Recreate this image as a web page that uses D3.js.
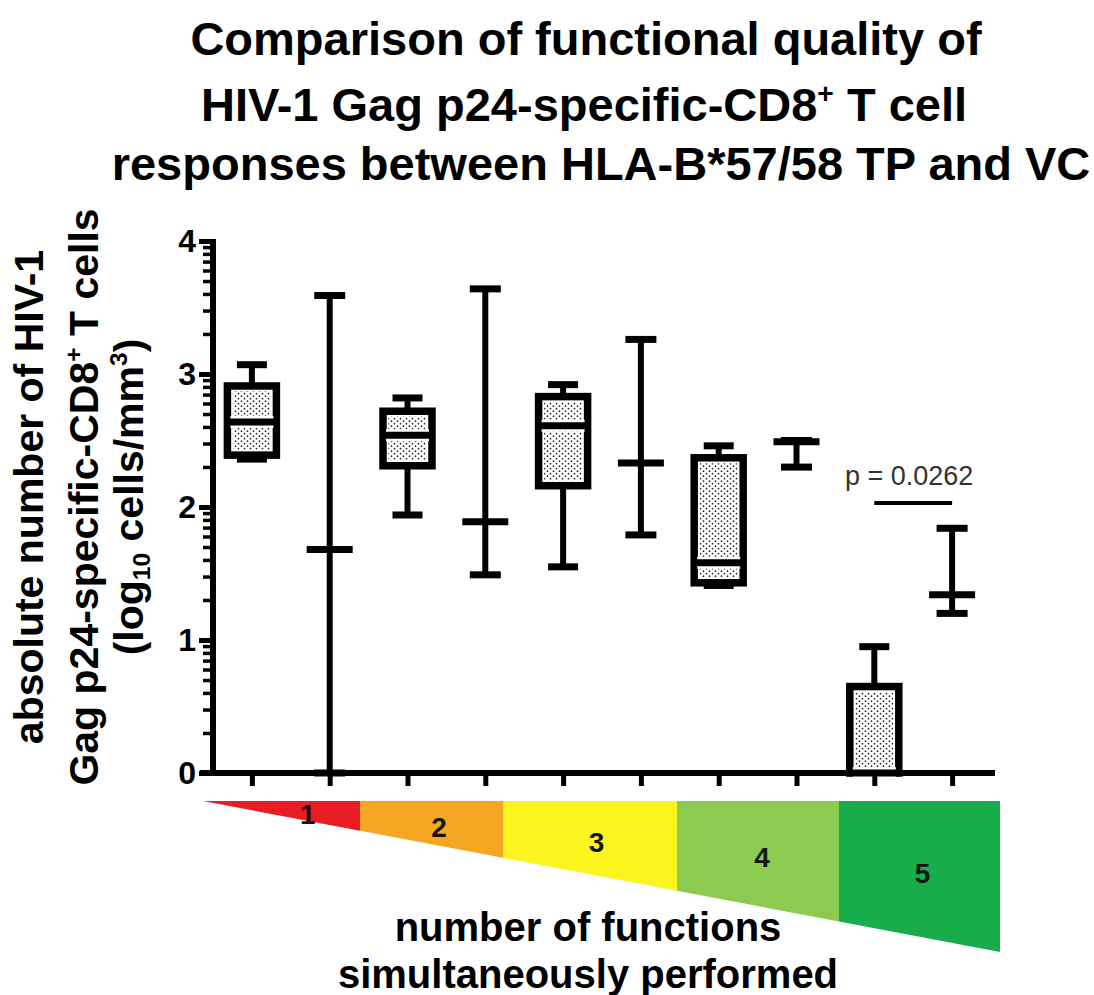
<!DOCTYPE html>
<html>
<head>
<meta charset="utf-8">
<script src="https://cdn.jsdelivr.net/npm/d3@7"></script>
<style>
  html, body { margin: 0; padding: 0; background: #fff; }
  svg { display: block; }
  text { font-family: "Liberation Sans", Arial, Helvetica, sans-serif; }
</style>
</head>
<body>
<svg id="chart" width="1094" height="995"></svg>
<script>
// ---- data: log10 absolute counts per group (TP box plots, VC min–max with median) ----
const categories = ["1 TP", "1 VC", "2 TP", "2 VC", "3 TP", "3 VC", "4 TP", "4 VC", "5 TP", "5 VC"];
const mins    = [2.36, 0.00, 1.94, 1.49, 1.55, 1.79, 1.41, 2.30, 0.00, 1.20];
const q1s     = [2.39, null, 2.31, null, 2.16, null, 1.43, null, 0.00, null];
const medians = [2.64, 1.68, 2.54, 1.89, 2.61, 2.33, 1.58, 2.49, 0.00, 1.34];
const q3s     = [2.91, null, 2.72, null, 2.83, null, 2.37, null, 0.65, null];
const maxs    = [3.07, 3.59, 2.82, 3.64, 2.92, 3.26, 2.46, 2.50, 0.95, 1.84];

const yTickValues = [0, 1, 2, 3, 4];
const functionLabels = ["1", "2", "3", "4", "5"];
const functionColors = ["#e81c22", "#f5a623", "#fbf41e", "#8dca50", "#18ad4a"];

const pFrom = "5 TP";
const pTo = "5 VC";
const pLevel = 2.03;
const pLabel = "p = 0.0262";

const titleLines = [
  [{ t: "Comparison of functional quality of" }],
  [{ t: "HIV-1 Gag p24-specific-CD8" }, { t: "+", sup: true }, { t: " T cell" }],
  [{ t: "responses between HLA-B*57/58 TP and VC" }]
];
const yLabelLines = [
  [{ t: "absolute number of HIV-1" }],
  [{ t: "Gag p24-specific-CD8" }, { t: "+", sup: true }, { t: " T cells" }],
  [{ t: "(log" }, { t: "10", sub: true }, { t: " cells/mm" }, { t: "3", sup: true }, { t: ")" }]
];
const xTitleLines = ["number of functions", "simultaneously performed"];

// ---- layout ----
const svg = d3.select("#chart");
const x = d3.scalePoint().domain(categories).range([213, 991]).padding(0.5);
const y = d3.scaleLinear().domain([0, 4]).range([773, 241]);

const defs = svg.append("defs");
const pat = defs.append("pattern")
  .attr("id", "dots").attr("patternUnits", "userSpaceOnUse")
  .attr("width", 6).attr("height", 5);
pat.append("rect").attr("width", 6).attr("height", 5).attr("fill", "#fff");
pat.append("circle").attr("cx", 1.5).attr("cy", 1.2).attr("r", 0.85).attr("fill", "#222");
pat.append("circle").attr("cx", 4.5).attr("cy", 3.7).attr("r", 0.85).attr("fill", "#222");

// text with super/subscript runs; the shift is undone on the following run
function writeRich(textSel, parts, baseSize) {
  let pending = 0;
  parts.forEach(p => {
    const ts = textSel.append("tspan").text(p.t);
    if (p.sup) {
      ts.attr("font-size", baseSize * 0.6).attr("dy", pending - baseSize * 0.38);
      pending = baseSize * 0.38;
    } else if (p.sub) {
      ts.attr("font-size", baseSize * 0.6).attr("dy", pending + baseSize * 0.18);
      pending = -baseSize * 0.18;
    } else {
      if (pending) ts.attr("dy", pending);
      pending = 0;
    }
  });
}

// ---- title ----
const titleSize = 47;
const titleBaselines = [55, 121, 180];
const titleCenters = [586, 584, 601];
titleLines.forEach((parts, i) => {
  const t = svg.append("text")
    .attr("x", titleCenters[i]).attr("y", titleBaselines[i])
    .attr("text-anchor", "middle")
    .attr("font-size", titleSize).attr("font-weight", "bold").attr("fill", "#000");
  writeRich(t, parts, titleSize);
});

// ---- y label (rotated) ----
const yLabSize = 41;
const yLabBaselines = [43, 98, 143];
yLabelLines.forEach((parts, i) => {
  const t = svg.append("text")
    .attr("transform", "rotate(-90)")
    .attr("x", -497).attr("y", yLabBaselines[i])
    .attr("text-anchor", "middle")
    .attr("font-size", yLabSize).attr("font-weight", "bold").attr("fill", "#000");
  writeRich(t, parts, yLabSize);
});

// ---- function-count wedge ----
const wedgeX = d3.scaleLinear().domain([0, 1, 2, 3, 4, 5]).range([203, 360, 503, 677, 839, 1000]);
const wedgeTop = 801;
const wedgeBottom = d3.scaleLinear().domain([203, 1000]).range([801, 952]);
const wedge = svg.append("g");
functionLabels.forEach((lab, i) => {
  const x0 = wedgeX(i), x1 = wedgeX(i + 1);
  const poly = [[x0, wedgeTop], [x1, wedgeTop], [x1, wedgeBottom(x1)], [x0, wedgeBottom(x0)]];
  wedge.append("path")
    .attr("d", "M" + poly.map(p => p.join(",")).join("L") + "Z")
    .attr("fill", functionColors[i]);
  const c = d3.polygonCentroid(poly);
  wedge.append("text")
    .attr("x", c[0]).attr("y", c[1] + 4)
    .attr("text-anchor", "middle").attr("dominant-baseline", "central")
    .attr("font-size", 28).attr("font-weight", "bold").attr("fill", "#151515")
    .text(lab);
});

// ---- x title ----
const xTitleBaselines = [941, 988];
xTitleLines.forEach((s, i) => {
  svg.append("text")
    .attr("x", 588).attr("y", xTitleBaselines[i])
    .attr("text-anchor", "middle")
    .attr("font-size", 40).attr("font-weight", "bold").attr("fill", "#000")
    .text(s);
});

// ---- whiskers ----
const marks = svg.append("g").attr("stroke", "#000").attr("fill", "none");
const boxW = 49, capBox = 30, capRange = 31, crossW = 46;
categories.forEach((c, i) => {
  const cx = x(c);
  marks.append("line")
    .attr("x1", cx).attr("x2", cx)
    .attr("y1", y(maxs[i])).attr("y2", y(mins[i]))
    .attr("stroke-width", 6);
  const capW = q1s[i] === null ? capRange : capBox;
  [maxs[i], mins[i]].forEach(v => {
    marks.append("line")
      .attr("x1", cx - capW / 2).attr("x2", cx + capW / 2)
      .attr("y1", y(v)).attr("y2", y(v))
      .attr("stroke-width", 7);
  });
});

// ---- boxes (TP) and median crossbars ----
categories.forEach((c, i) => {
  const cx = x(c);
  if (q1s[i] !== null) {
    const top = y(q3s[i]), bot = y(q1s[i]);
    marks.append("rect")
      .attr("x", cx - boxW / 2).attr("y", top)
      .attr("width", boxW).attr("height", bot - top)
      .attr("fill", "#fff").attr("stroke-width", 7.5);
    const inset = 5.5;
    const ih = bot - top - 2 * inset;
    if (ih > 0) {
      marks.append("rect")
        .attr("x", cx - boxW / 2 + inset).attr("y", top + inset)
        .attr("width", boxW - 2 * inset).attr("height", ih)
        .attr("fill", "url(#dots)").attr("stroke", "none");
    }
    marks.append("line")
      .attr("x1", cx - boxW / 2 + 3).attr("x2", cx + boxW / 2 - 3)
      .attr("y1", y(medians[i])).attr("y2", y(medians[i]))
      .attr("stroke", "#fff").attr("stroke-width", 12);
    marks.append("line")
      .attr("x1", cx - boxW / 2).attr("x2", cx + boxW / 2)
      .attr("y1", y(medians[i])).attr("y2", y(medians[i]))
      .attr("stroke-width", 7);
  } else {
    marks.append("line")
      .attr("x1", cx - crossW / 2).attr("x2", cx + crossW / 2)
      .attr("y1", y(medians[i])).attr("y2", y(medians[i]))
      .attr("stroke-width", 7);
  }
});

// ---- axes ----
const minorTicks = [];
for (let d = 0; d < 4; d++) {
  for (let k = 2; k <= 9; k++) minorTicks.push(d + Math.log10(k));
}

const xAxis = svg.append("g")
  .attr("transform", `translate(0,${y(0)})`)
  .call(d3.axisBottom(x).tickSize(13).tickSizeOuter(0).tickFormat(""));
xAxis.select(".domain").attr("d", "M200,0H995").attr("stroke-width", 6);
xAxis.selectAll(".tick line").attr("stroke-width", 5);

const yMinor = svg.append("g")
  .attr("transform", "translate(213,0)")
  .call(d3.axisLeft(y).tickValues(minorTicks).tickSize(10).tickFormat(""));
yMinor.select(".domain").remove();
yMinor.selectAll(".tick line").attr("stroke-width", 3.5);

const yAxis = svg.append("g")
  .attr("transform", "translate(213,0)")
  .call(d3.axisLeft(y).tickValues(yTickValues).tickSize(14).tickSizeOuter(0).tickPadding(3).tickFormat(d3.format("d")));
yAxis.select(".domain").attr("stroke-width", 6).attr("d", `M0,${y(0) + 3}V${y(4) - 2}`);
yAxis.selectAll(".tick line").attr("stroke-width", 5);
yAxis.selectAll(".tick text")
  .attr("font-size", 32).attr("font-weight", "bold").attr("fill", "#000")
  .attr("font-family", "'Liberation Sans', Arial, sans-serif");

// ---- significance annotation ----
svg.append("line")
  .attr("x1", x(pFrom)).attr("x2", x(pTo))
  .attr("y1", y(pLevel)).attr("y2", y(pLevel))
  .attr("stroke", "#000").attr("stroke-width", 4);
svg.append("text")
  .attr("x", (x(pFrom) + x(pTo)) / 2 - 4).attr("y", y(pLevel) - 18)
  .attr("text-anchor", "middle")
  .attr("font-size", 27).attr("fill", "#333")
  .text(pLabel);
</script>
</body>
</html>
